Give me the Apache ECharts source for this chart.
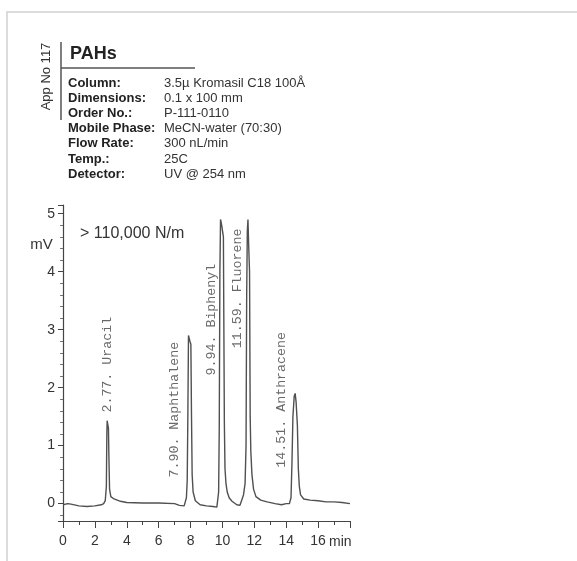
<!DOCTYPE html>
<html>
<head>
<meta charset="utf-8">
<script src="https://cdn.jsdelivr.net/npm/echarts@6/dist/echarts.min.js"></script>
<style>html,body{margin:0;padding:0;background:#fff}#c{width:577px;height:561px}</style>
</head>
<body>
<div id="c"></div>
<script>
// ---- data ----
const traceTime = [0,0.3,0.5,1.0,1.5,2.0,2.4,2.55,2.65,2.72,2.75,2.77,2.80,2.85,2.88,2.92,3.0,3.2,3.6,4.0,5.0,6.0,7.0,7.3,7.6,7.68,7.74,7.79,7.83,7.87,7.91,7.96,8.02,8.06,8.1,8.16,8.3,8.6,9.0,9.4,9.65,9.76,9.8,9.84,9.88,9.92,9.98,10.06,10.12,10.16,10.22,10.3,10.42,10.6,10.9,11.1,11.22,11.32,11.42,11.48,11.52,11.56,11.6,11.64,11.7,11.74,11.78,11.85,11.95,12.1,12.4,12.8,13.3,13.7,14.0,14.2,14.3,14.36,14.42,14.5,14.56,14.62,14.7,14.76,14.82,14.9,15.1,15.5,16.0,16.5,17.0,17.5,18.0];
const traceMV   = [-0.02,0.0,-0.01,-0.04,-0.05,-0.04,-0.02,0.0,0.05,0.3,1.2,1.43,1.38,1.3,0.8,0.25,0.12,0.08,0.04,0.02,0.01,0.01,0.0,-0.03,-0.04,-0.05,0.1,0.4,1.5,2.9,2.88,2.8,2.75,1.5,0.5,0.2,0.05,-0.02,-0.04,-0.05,-0.06,0.2,1.3,4.0,4.9,4.85,4.75,4.6,1.4,0.6,0.35,0.2,0.1,0.04,-0.02,-0.03,0.0,0.15,0.35,1.0,3.6,4.7,4.9,4.5,4.0,1.5,0.9,0.5,0.25,0.12,0.06,0.03,0.0,-0.02,0.0,0.0,0.1,0.7,1.5,1.85,1.9,1.75,1.35,0.6,0.3,0.15,0.08,0.06,0.05,0.03,0.03,0.02,0.0];
const peakLabels = ['2.77. Uracil','7.90. Naphthalene','9.94. Biphenyl','11.59. Fluorene','14.51. Anthracene'];
const peakLabelTime = [2.81, 7.01, 9.32, 10.97, 13.71];
const peakLabelMV = [1.57, 0.45, 2.21, 2.68, 0.62];
const xTicks = [0,2,4,6,8,10,12,14,16];
const yTicks = [0,1,2,3,4,5];
const infoKeys = ['Column:','Dimensions:','Order No.:','Mobile Phase:','Flow Rate:','Temp.:','Detector:'];
const infoValues = ['3.5\u00b5 Kromasil C18 100\u00c5','0.1 x 100 mm','P-111-0110','MeCN-water (70:30)','300 nL/min','25C','UV @ 254 nm'];

const chart = echarts.init(document.getElementById('c'), null, {renderer:'canvas'});
const axisColor = '#444';
const graphic = [
  {type:'rect', shape:{x:7, y:12, width:640, height:640}, style:{fill:'none', stroke:'#dcdcdc', lineWidth:2}, silent:true},
  {type:'text', x:46.5, y:76.5, rotation:Math.PI/2, style:{text:'App No 117', font:'13px "Liberation Sans", Arial', fill:'#333', align:'center', verticalAlign:'middle'}},
  {type:'line', shape:{x1:61, y1:42, x2:61, y2:120}, style:{stroke:'#555', lineWidth:1.5}},
  {type:'line', shape:{x1:61, y1:68, x2:195, y2:68}, style:{stroke:'#555', lineWidth:1.5}},
  {type:'text', x:70, y:54, style:{text:'PAHs', font:'bold 18px "Liberation Sans", Arial', fill:'#222', verticalAlign:'middle'}},
  {type:'text', x:80, y:234, style:{text:'> 110,000 N/m', font:'16px "Liberation Sans", Arial', fill:'#333', verticalAlign:'middle'}},
  {type:'text', x:41.5, y:245, style:{text:'mV', font:'15px "Liberation Sans", Arial', fill:'#333', align:'center', verticalAlign:'middle'}},
  {type:'text', x:329, y:542, style:{text:'min', font:'14px "Liberation Sans", Arial', fill:'#333', verticalAlign:'middle'}}
];
infoKeys.forEach((k,i)=>{
  graphic.push({type:'text', x:68, y:83.5+15.1*i, style:{text:k, font:'bold 13px "Liberation Sans", Arial', fill:'#222', verticalAlign:'middle'}});
  graphic.push({type:'text', x:164, y:83.5+15.1*i, style:{text:infoValues[i], font:'13px "Liberation Sans", Arial', fill:'#333', verticalAlign:'middle'}});
});

chart.setOption({
  animation:false,
  backgroundColor:'#fff',
  grid:{left:63, right:227, top:205, bottom:40, containLabel:false},
  xAxis:{
    type:'value', min:0, max:18, interval:2,
    axisLine:{show:true, onZero:false, lineStyle:{color:axisColor, width:1.2}},
    axisTick:{show:true, inside:false, length:7, lineStyle:{color:axisColor}},
    minorTick:{show:true, splitNumber:2, length:4, lineStyle:{color:axisColor}},
    splitLine:{show:false},
    axisLabel:{margin:13, fontSize:14, color:'#333', fontFamily:'"Liberation Sans", Arial',
      formatter:v => xTicks.indexOf(v) >= 0 ? String(v) : ''}
  },
  yAxis:{
    type:'value', min:-0.3, max:5.15, splitNumber:5,
    axisLine:{show:true, onZero:false, lineStyle:{color:axisColor, width:1.2}},
    axisTick:{show:true, length:5, lineStyle:{color:axisColor}},
    minorTick:{show:true, splitNumber:5, length:3, lineStyle:{color:'#777'}},
    splitLine:{show:false},
    axisLabel:{margin:8, fontSize:14, color:'#333', fontFamily:'"Liberation Sans", Arial',
      showMinLabel:false, showMaxLabel:false,
      formatter:v => yTicks.indexOf(v) >= 0 ? String(v) : ''}
  },
  series:[
    {type:'line', data:traceTime.map((t,i)=>[t,traceMV[i]]), showSymbol:false, symbol:'none',
     lineStyle:{color:'#505050', width:1.4}, z:3},
    {type:'scatter', symbolSize:0, z:4,
     data:peakLabels.map((n,i)=>({name:n, value:[peakLabelTime[i], peakLabelMV[i]]})),
     label:{show:true, formatter:'{b}', position:[0,0], rotate:90, align:'left', verticalAlign:'middle',
       fontFamily:'"Liberation Mono", "DejaVu Sans Mono", monospace', fontSize:13.3, color:'#444'}}
  ],
  graphic:graphic
});
</script>
</body>
</html>
